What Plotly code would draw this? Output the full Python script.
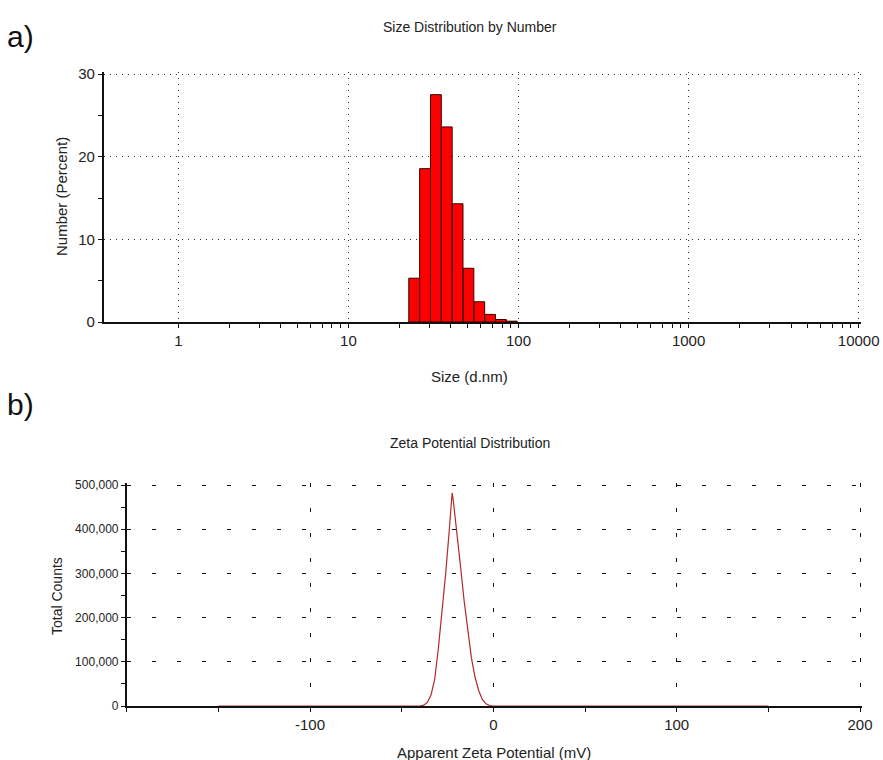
import numpy as np
import plotly.graph_objects as go

# ---- Size distribution by number (DLS) ----
size_nm = [24.36, 28.21, 32.67, 37.84, 43.82, 50.75, 58.77, 68.06, 78.82, 91.28]
number_pct = [5.3, 18.55, 27.5, 23.6, 14.3, 6.5, 2.45, 0.92, 0.3, 0.1]
size_ticks = [1, 10, 100, 1000, 10000]
size_tick_text = ["1", "10", "100", "1000", "10000"]

# ---- Zeta potential distribution ----
zeta_mv = [-150, -40, -38, -36, -34, -32, -30, -28, -26, -24, -23, -22.5, -22,
           -20, -18, -16, -14, -12, -10, -8, -6, -4, -2, 0, 150]
zeta_counts = [0, 0, 2000, 8000, 25000, 60000, 130000, 210000, 300000, 400000,
               450000, 482000, 470000, 400000, 320000, 240000, 170000, 110000,
               65000, 35000, 15000, 5000, 1000, 0, 0]
zeta_ticks = [-100, 0, 100, 200]
count_ticks = [0, 100000, 200000, 300000, 400000, 500000]

W, H = 883, 760
FONT = "Liberation Sans, Arial, sans-serif"


def px(x):
    return x / W


def py(y):
    return 1 - y / H


# bar outlines on the log axis: each bin spans half a class width either side
ratio = size_nm[1] / size_nm[0]
half = np.sqrt(ratio)
bx, by = [], []
for c, v in zip(size_nm, number_pct):
    lo, hi = c / half, c * half
    bx += [lo, lo, hi, hi, lo, None]
    by += [0, v, v, 0, 0, None]

fig = go.Figure()
fig.add_trace(go.Scatter(
    x=bx, y=by, mode="lines", fill="toself", fillcolor="#ff0000",
    line=dict(color="#3a0000", width=1), xaxis="x", yaxis="y",
    hoverinfo="skip", showlegend=False))

fig.add_trace(go.Scatter(
    x=zeta_mv, y=zeta_counts, mode="lines",
    line=dict(color="#b22a2a", width=1.2), xaxis="x2", yaxis="y2",
    showlegend=False))

# minor tick positions on the size axis (2..9 of every decade)
size_minor = [m * 10 ** d for d in range(0, 4) for m in range(2, 10)]
size_all_ticks = size_ticks + size_minor

# ranges run ~2px past the last gridline so the edge gridlines are still drawn
PAD = 2.0
x1_px = (103.7, 858.7)            # log10 0.364 .. 4
y1_px = (322.0, 74.0)             # 0 .. 30
x2_px = (126.7, 860.0)            # -200 .. 200
y2_px = (706.0, 485.0)            # 0 .. 500000

dec_px = (x1_px[1] - x1_px[0]) / (4 - np.log10(0.364))
logmin, logmax = np.log10(0.364), 4 + PAD / dec_px
y1max = 30 + PAD * 30 / (y1_px[0] - y1_px[1])
x2min, x2max = -200, 200 + PAD * 400 / (x2_px[1] - x2_px[0])
y2max = 500000 + PAD * 500000 / (y2_px[0] - y2_px[1])

tickfont = dict(family=FONT, size=15, color="#222")
dot_grid = dict(showgrid=True, gridcolor="#333", gridwidth=1, griddash="1px,5px")
dash_grid = dict(showgrid=True, gridcolor="#111", gridwidth=1, griddash="4px,21px")
axline = dict(showline=True, linecolor="#111", linewidth=1.6, zeroline=False,
              ticks="outside", ticklen=4, tickwidth=1.2, tickcolor="#111",
              automargin=False)
inner = dict(showline=False, showgrid=False, zeroline=False, ticks="inside",
             ticklen=4, tickwidth=1.2, tickcolor="#111", showticklabels=False,
             automargin=False)

xd1 = [px(x1_px[0]), px(x1_px[1] + PAD)]
yd1 = [py(y1_px[0]), py(y1_px[1] - PAD)]
xd2 = [px(x2_px[0]), px(x2_px[1] + PAD)]
yd2 = [py(y2_px[0]), py(y2_px[1] - PAD)]

fig.update_layout(
    width=W, height=H, margin=dict(l=0, r=0, t=0, b=0, autoexpand=False),
    paper_bgcolor="white", plot_bgcolor="white", showlegend=False,
    xaxis=dict(domain=xd1, anchor="y", type="log", range=[logmin, logmax],
               tickmode="array", tickvals=size_ticks, ticktext=size_tick_text,
               tickfont=tickfont, **dot_grid, **axline,
               minor=dict(tickmode="array", tickvals=size_minor, ticks="outside",
                          ticklen=4, tickwidth=1.2, tickcolor="#111", showgrid=False)),
    yaxis=dict(domain=yd1, anchor="x", range=[0, y1max], tickmode="array",
               tickvals=[0, 10, 20, 30], tickfont=tickfont, **dot_grid, **axline,
               minor=dict(tickmode="array", tickvals=[5, 15, 25], ticks="outside",
                          ticklen=4, tickwidth=1.2, tickcolor="#111", showgrid=False)),
    xaxis3=dict(domain=xd1, anchor="y", overlaying="x", type="log",
                range=[logmin, logmax], tickmode="array", tickvals=size_all_ticks,
                **inner),
    yaxis3=dict(domain=yd1, anchor="x", overlaying="y", range=[0, y1max],
                tickmode="array", tickvals=[0, 5, 10, 15, 20, 25, 30], **inner),
    xaxis2=dict(domain=xd2, anchor="y2", range=[x2min, x2max], tickmode="array",
                tickvals=zeta_ticks, ticktext=[str(v) for v in zeta_ticks],
                tickfont=tickfont, **dash_grid, **axline,
                minor=dict(tickmode="array", tickvals=[-200, -150, -50, 50, 150],
                           ticks="outside", ticklen=4, tickwidth=1.2,
                           tickcolor="#111", showgrid=False)),
    yaxis2=dict(domain=yd2, anchor="x2", range=[0, y2max], tickmode="array",
                tickvals=count_ticks,
                ticktext=["0"] + [f"{v:,}" for v in count_ticks[1:]],
                tickfont=dict(family=FONT, size=12, color="#222"),
                **dash_grid, **axline,
                minor=dict(tickmode="array",
                           tickvals=[50000, 150000, 250000, 350000, 450000],
                           ticks="outside", ticklen=4, tickwidth=1.2,
                           tickcolor="#111", showgrid=False)),
    xaxis4=dict(domain=xd2, anchor="y2", overlaying="x2", range=[x2min, x2max],
                tickmode="array", tickvals=list(range(-200, 201, 50)), **inner),
    yaxis4=dict(domain=yd2, anchor="x2", overlaying="y2", range=[0, y2max],
                tickmode="array", tickvals=list(range(0, 500001, 50000)), **inner),
)


def label(text, x, y, size, angle=0, color="#222"):
    fig.add_annotation(text=text, x=px(x), y=py(y), xref="paper", yref="paper",
                       showarrow=False, textangle=angle, xanchor="center",
                       yanchor="middle", font=dict(family=FONT, size=size, color=color))


label("a)", 20, 37, 30, color="#111")
label("Size Distribution by Number", 470, 27, 14)
label("Number (Percent)", 62, 197, 15, angle=-90)
label("Size (d.nm)", 470, 377, 15)
label("b)", 20, 404, 30, color="#111")
label("Zeta Potential Distribution", 470, 443, 14)
label("Total Counts", 57, 596, 14, angle=-90)
label("Apparent Zeta Potential (mV)", 494, 752, 15)

fig.write_html("out.html")
